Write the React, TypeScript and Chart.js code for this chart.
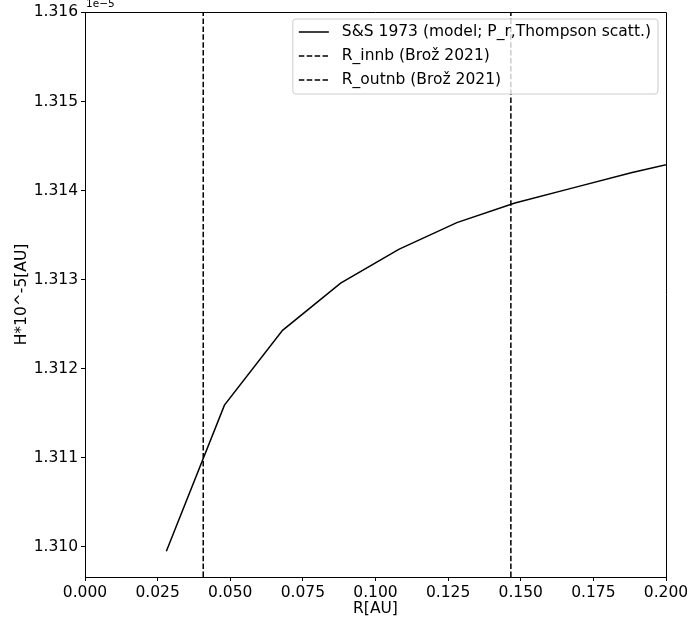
import React, { useEffect, useRef } from "react";
import { Chart, registerables } from "chart.js";

Chart.register(...registerables);

// ---- data ----
const rValues = [0.028, 0.048, 0.068, 0.088, 0.108, 0.128, 0.148, 0.168, 0.188, 0.208];
const hValues = [1.30995, 1.31159, 1.31243, 1.31296, 1.31334, 1.31364, 1.31386, 1.31403, 1.3142, 1.31435];
const rInner = 0.0407;
const rOuter = 0.1466;
const xTicks = [0, 0.025, 0.05, 0.075, 0.1, 0.125, 0.15, 0.175, 0.2];
const yTicks = [1.31, 1.311, 1.312, 1.313, 1.314, 1.315, 1.316];
const xRange = [0, 0.2];
const yRange = [1.30966, 1.316005];
const seriesLabels = [
  "S&S 1973 (model; P_r,Thompson scatt.)",
  "R_innb (Brož 2021)",
  "R_outnb (Brož 2021)",
];
const xTitle = "R[AU]";
const yTitle = "H*10^-5[AU]";
const offsetText = "1e\u22125";

const FONT = "'DejaVu Sans', sans-serif";
const FS = 15.5;
const DASH = [5.5, 2.4];

const framePlugin = {
  id: "frameAndLegend",
  afterDatasetsDraw(chart: any) {
    const { ctx, chartArea } = chart;
    const { left, right, top, bottom } = chartArea;
    ctx.save();
    // top & right spines
    ctx.strokeStyle = "#000";
    ctx.lineWidth = 1;
    ctx.beginPath();
    ctx.moveTo(left, top + 0.5);
    ctx.lineTo(right + 0.5, top + 0.5);
    ctx.lineTo(right + 0.5, bottom);
    ctx.stroke();

    // offset text
    ctx.font = `10.5px ${FONT}`;
    ctx.fillStyle = "#000";
    ctx.textBaseline = "bottom";
    ctx.textAlign = "left";
    ctx.fillText(offsetText, left + 1, top - 2);

    // legend
    ctx.font = `${FS}px ${FONT}`;
    const datasets = chart.data.datasets;
    let textW = 0;
    datasets.forEach((d: any) => {
      textW = Math.max(textW, ctx.measureText(d.label).width);
    });
    const boxRight = right - 8;
    const boxTop = top + 7;
    const boxW = textW + 56;
    const boxLeft = boxRight - boxW;
    const rowH = 24;
    const boxH = 75;
    const r = 3;
    ctx.beginPath();
    ctx.moveTo(boxLeft + r, boxTop);
    ctx.lineTo(boxRight - r, boxTop);
    ctx.arcTo(boxRight, boxTop, boxRight, boxTop + r, r);
    ctx.lineTo(boxRight, boxTop + boxH - r);
    ctx.arcTo(boxRight, boxTop + boxH, boxRight - r, boxTop + boxH, r);
    ctx.lineTo(boxLeft + r, boxTop + boxH);
    ctx.arcTo(boxLeft, boxTop + boxH, boxLeft, boxTop + boxH - r, r);
    ctx.lineTo(boxLeft, boxTop + r);
    ctx.arcTo(boxLeft, boxTop, boxLeft + r, boxTop, r);
    ctx.closePath();
    ctx.fillStyle = "rgba(255,255,255,0.8)";
    ctx.fill();
    ctx.strokeStyle = "#cccccc";
    ctx.lineWidth = 1;
    ctx.stroke();

    datasets.forEach((d: any, i: number) => {
      const cy = boxTop + 13 + i * rowH;
      ctx.beginPath();
      ctx.strokeStyle = d.borderColor;
      ctx.lineWidth = d.borderWidth;
      ctx.setLineDash(d.borderDash || []);
      ctx.moveTo(boxLeft + 6, cy);
      ctx.lineTo(boxLeft + 36, cy);
      ctx.stroke();
      ctx.setLineDash([]);
      ctx.fillStyle = "#000";
      ctx.textBaseline = "middle";
      ctx.textAlign = "left";
      ctx.fillText(d.label, boxLeft + 49, cy);
    });
    ctx.restore();
  },
};

export default function App() {
  const canvasRef = useRef<HTMLCanvasElement | null>(null);

  useEffect(() => {
    if (!canvasRef.current) return;
    Chart.defaults.font.family = FONT;
    Chart.defaults.color = "#000";
    const linePts = rValues.map((x, i) => ({ x, y: hValues[i] }));
    const vline = (x: number) => [
      { x, y: yRange[0] },
      { x, y: yRange[1] },
    ];
    const chart = new Chart(canvasRef.current, {
      type: "scatter",
      data: {
        datasets: [
          {
            label: seriesLabels[0],
            data: linePts,
            showLine: true,
            borderColor: "#000",
            borderWidth: 1.5,
            pointRadius: 0,
            fill: false,
          },
          {
            label: seriesLabels[1],
            data: vline(rInner),
            showLine: true,
            borderColor: "#000",
            borderWidth: 1.5,
            borderDash: DASH,
            pointRadius: 0,
            fill: false,
          },
          {
            label: seriesLabels[2],
            data: vline(rOuter),
            showLine: true,
            borderColor: "#000",
            borderWidth: 1.5,
            borderDash: DASH,
            pointRadius: 0,
            fill: false,
          },
        ],
      },
      options: {
        responsive: false,
        animation: false,
        layout: { padding: { left: 0, right: 23, top: 12, bottom: 0 } },
        plugins: {
          legend: { display: false },
          tooltip: { enabled: false },
        },
        scales: {
          x: {
            type: "linear",
            min: xRange[0],
            max: xRange[1],
            afterFit: (s: any) => {
              s.height = 49;
              s.paddingLeft = 0;
              s.paddingRight = 0;
            },
            afterBuildTicks: (s: any) => {
              s.ticks = xTicks.map((v) => ({ value: v }));
            },
            ticks: {
              autoSkip: false,
              maxRotation: 0,
              color: "#000",
              font: { size: FS, family: FONT },
              padding: 3,
              callback: (v: any) => Number(v).toFixed(3),
            },
            grid: {
              display: true,
              drawOnChartArea: false,
              drawTicks: true,
              tickLength: 4,
              tickColor: "#000",
              tickWidth: 1,
            },
            border: { display: true, color: "#000", width: 1 },
            title: {
              display: true,
              text: xTitle,
              color: "#000",
              font: { size: FS, family: FONT },
              padding: { top: 0, bottom: 8 },
            },
          },
          y: {
            type: "linear",
            min: yRange[0],
            max: yRange[1],
            afterFit: (s: any) => {
              s.width = 85;
              s.paddingTop = 0;
              s.paddingBottom = 0;
            },
            afterBuildTicks: (s: any) => {
              s.ticks = yTicks.map((v) => ({ value: v }));
            },
            ticks: {
              autoSkip: false,
              color: "#000",
              font: { size: FS, family: FONT },
              padding: 3,
              callback: (v: any) => Number(v).toFixed(3),
            },
            grid: {
              display: true,
              drawOnChartArea: false,
              drawTicks: true,
              tickLength: 4,
              tickColor: "#000",
              tickWidth: 1,
            },
            border: { display: true, color: "#000", width: 1 },
            title: {
              display: true,
              text: yTitle,
              color: "#000",
              font: { size: FS, family: FONT },
              padding: { top: 13, bottom: 0 },
            },
          },
        },
      },
      plugins: [framePlugin],
    });
    return () => chart.destroy();
  }, []);

  return (
    <div style={{ position: "absolute", left: 0, top: 0, width: 689, height: 626, background: "#fff" }}>
      <canvas ref={canvasRef} width={689} height={626} style={{ display: "block" }} />
    </div>
  );
}
